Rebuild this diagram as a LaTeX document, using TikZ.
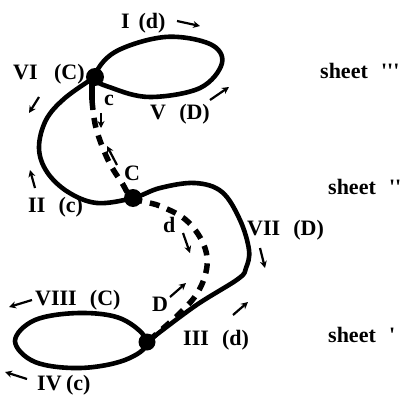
\documentclass[tikz,border=0pt]{standalone}
\usepackage{fontspec}
\setmainfont{Liberation Serif}
\usetikzlibrary{arrows.meta}
\newcommand{\qq}{\textquotesingle}
\begin{document}
\begin{tikzpicture}[x=1pt,y=-1pt,
  lbl/.style={font=\fontsize{22}{24}\selectfont\bfseries, inner sep=0pt, anchor=base west},
  curve/.style={line width=4.6pt, line cap=round, line join=round},
  dashcurve/.style={line width=5.5pt, dash pattern=on 10pt off 8pt},
  dot/.style={circle, fill=black, inner sep=0pt, minimum size=#1},
  arr/.style={line width=2.2pt, -{Stealth[length=7pt,width=7pt]}}]
\useasboundingbox (0,0) rectangle (404,401);
% curves
\draw[curve] plot[smooth cycle, tension=0.6] coordinates {(95,77) (115,52) (165,37) (210,44) (222,63) (200,88) (150,97) (112,88)};
\draw[curve] plot[smooth, tension=0.6] coordinates {(95,77) (65,98) (46,120) (39,148) (47,172) (68,192) (97,203) (133,198) (160,188) (195,183) (222,192) (240,220) (249,250) (246,268) (238,279) (195,306) (147,342)};
\draw[curve] plot[smooth cycle, tension=0.6] coordinates {(147,342) (122,319) (80,313) (35,320) (15,341) (35,362) (80,368) (125,360)};
\draw[line width=5.5pt] (92,80) -- (92,100);
\draw[dashcurve] plot[smooth, tension=0.6] coordinates {(92,100) (96,128) (108,160) (122,183) (133,198) (160,206) (186,220) (203,243) (207,266) (198,292) (178,315) (147,342)};
% dots
\node[dot=18pt] (top) at (95,77) {};
\node[dot=18pt] (mid) at (133,198) {};
\node[dot=17pt] (bot) at (147,342) {};
% labels
\node[lbl] (lI) at (121,29) {I\hspace{0.4em}(d)};
\node[lbl] (lVI) at (13,80) {VI\hspace{0.75em}(C)};
\node[lbl] (lc) at (104,106) {c};
\node[lbl] (lV) at (150,120) {V\hspace{0.6em}(D)};
\node[lbl] (s3) at (320,79) {sheet\hspace{0.6em}\qq\qq\qq};
\node[lbl] (lII) at (28,212) {II\hspace{0.6em}(c)};
\node[lbl] (lC) at (124,180) {C};
\node[lbl] (ld) at (163,232) {d};
\node[lbl] (lVII) at (247,235) {VII\hspace{0.6em}(D)};
\node[lbl] (s2) at (328,194) {sheet\hspace{0.6em}\qq\qq};
\node[lbl] (lD) at (152,311) {D};
\node[lbl] (lIII) at (183,345) {III\hspace{0.6em}(d)};
\node[lbl] (s1) at (328,342) {sheet\hspace{0.6em}\qq};
\node[lbl] (lVIII) at (35,305) {VIII\hspace{0.6em}(C)};
\node[lbl] (lIV) at (37,390) {IV\hspace{0.2em}(c)};
% arrows
\coordinate (a1s) at (177,21); \coordinate (a1e) at (200,26);
\coordinate (a2s) at (39,97); \coordinate (a2e) at (29,113);
\coordinate (a3s) at (101,113); \coordinate (a3e) at (101,128);
\coordinate (a4s) at (210,100); \coordinate (a4e) at (229,87);
\coordinate (a5s) at (35,188); \coordinate (a5e) at (30,170);
\coordinate (a6s) at (117,165); \coordinate (a6e) at (107,146);
\coordinate (a7s) at (183,233); \coordinate (a7e) at (190,253);
\coordinate (a8s) at (260,248); \coordinate (a8e) at (265,268);
\coordinate (a9s) at (170,297); \coordinate (a9e) at (186,283);
\coordinate (a10s) at (233,315); \coordinate (a10e) at (248,302);
\coordinate (a11s) at (32,300); \coordinate (a11e) at (9,307);
\coordinate (a12s) at (27,379); \coordinate (a12e) at (5,372);
\foreach \i in {1,...,12} \draw[arr] (a\i s) -- (a\i e);
\end{tikzpicture}
\end{document}
